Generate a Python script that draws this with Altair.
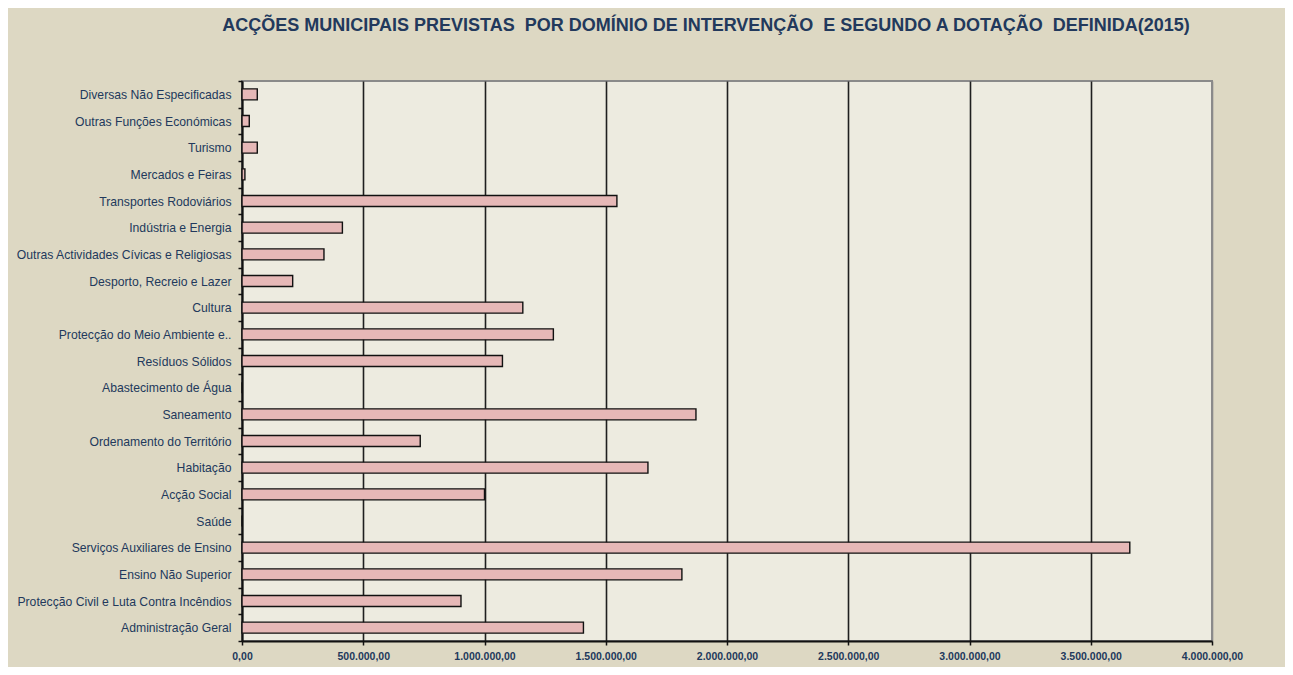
import altair as alt
import pandas as pd

categories = [
    "Diversas Não Especificadas",
    "Outras Funções  Económicas",
    "Turismo",
    "Mercados e Feiras",
    "Transportes  Rodoviários",
    "Indústria e Energia",
    "Outras Actividades  Cívicas e Religiosas",
    "Desporto, Recreio e Lazer",
    "Cultura",
    "Protecção do Meio Ambiente e..",
    "Resíduos  Sólidos",
    "Abastecimento  de Água",
    "Saneamento",
    "Ordenamento  do Território",
    "Habitação",
    "Acção Social",
    "Saúde",
    "Serviços Auxiliares de Ensino",
    "Ensino Não Superior",
    "Protecção Civil e Luta  Contra Incêndios",
    "Administração Geral",
]
values = [
    63000, 30000, 63000, 12000, 1546000, 414000, 338000, 209000,
    1158000, 1284000, 1074000, 0, 1872000, 735000, 1674000, 1000000,
    0, 3661000, 1814000, 903000, 1408000,
]
x_ticks = [0, 500000, 1000000, 1500000, 2000000, 2500000, 3000000, 3500000, 4000000]
title_text = ("ACÇÕES MUNICIPAIS PREVISTAS\u00a0 POR DOMÍNIO DE INTERVENÇÃO\u00a0 E "
              "SEGUNDO A DOTAÇÃO\u00a0 DEFINIDA(2015)")

df = pd.DataFrame({"categoria": categories, "valor": values})

FONT = "Liberation Sans"
TEXT = "#22395C"

label_expr = (
    "replace(replace(replace(format(datum.value, ',.2f'), regexp(',', 'g'), '#'),"
    " regexp('[.]', 'g'), ','), regexp('#', 'g'), '.')"
)

chart = (
    alt.Chart(df)
    .mark_bar(size=11, fill="#E6B8B7", stroke="#111111", strokeWidth=1.4)
    .encode(
        x=alt.X(
            "valor:Q",
            scale=alt.Scale(domain=[0, 4000000], nice=False),
            axis=alt.Axis(
                values=x_ticks,
                title=None,
                labelExpr=label_expr,
                labelFont=FONT,
                labelFontSize=10.5,
                labelFontWeight="bold",
                labelColor=TEXT,
                labelPadding=6,
                tickSize=4,
                tickColor="#111111",
                tickWidth=1.5,
                domainColor="#111111",
                domainWidth=2,
                grid=True,
                gridColor={
                    "condition": {"test": "datum.value >= 4000000", "value": "#8a8a8a"},
                    "value": "#1f1f1f",
                },
                gridWidth=1.6,
                gridOpacity=1,
                labelFlush=False,
            ),
        ),
        y=alt.Y(
            "categoria:N",
            sort=categories,
            scale=alt.Scale(paddingInner=0, paddingOuter=0),
            axis=alt.Axis(
                title=None,
                labelFont=FONT,
                labelFontSize=12.2,
                labelColor=TEXT,
                labelPadding=7,
                labelLimit=300,
                tickBand="extent",
                tickSize=4,
                tickColor="#111111",
                tickWidth=1.5,
                domainColor="#111111",
                domainWidth=2,
                grid=False,
            ),
        ),
    )
    .properties(
        width=970,
        height=560,
        padding={"left": 234, "top": 73, "right": 73, "bottom": 26},
        autosize=alt.AutoSizeParams(type="none"),
        background="#DDD8C3",
        title=alt.TitleParams(
            text=title_text,
            font=FONT,
            fontSize=18,
            fontWeight="bold",
            color=TEXT,
            anchor="middle",
            dx=-21,
            offset=40,
        ),
    )
    .configure_view(fill="#EDEBE0", stroke="#8a8a8a", strokeWidth=2)
)

chart.save("out.html", embed_options={"renderer": "svg", "actions": False})
